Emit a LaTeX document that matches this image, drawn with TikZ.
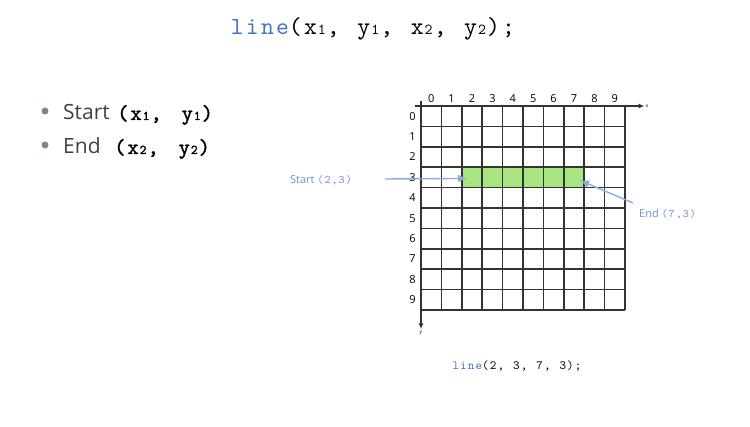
\documentclass[tikz,border=0pt]{standalone}
\usepackage{fontspec,graphicx}
\setmainfont{Open Sans}
\newfontfamily\codefont[LetterSpace=9,WordSpace=1.5]{lmmono10-regular.otf}
\newfontfamily\boldcode[LetterSpace=9,WordSpace=1.5,FakeBold=1.5]{lmmono10-regular.otf}
\newfontfamily\smallcode[LetterSpace=9,WordSpace=1.17]{lmmono10-regular.otf}
\usetikzlibrary{positioning,arrows.meta}
\tikzset{
	>=latex,
}
\definecolor{codeblue}{RGB}{68,114,196}
\definecolor{pointblue}{RGB}{143,170,220}
\definecolor{noteblue}{RGB}{112,144,206}
\definecolor{notegray}{RGB}{64,64,64}
\definecolor{dotgray}{RGB}{125,135,135}
\definecolor{cellgreen}{RGB}{168,228,128}
\newcommand{\csub}[1]{\makebox[0.41em][c]{\scalebox{0.62}{#1}}}

\begin{document}
\begin{tikzpicture}[x=1pt,y=-1pt,
		item/.style={font=\fontsize{21}{21}\selectfont, text=notegray, inner sep=0pt},
		dot/.style={circle, fill=dotgray, inner sep=0pt, minimum size=7pt},
		gridline/.style={line width=1.5pt, black!80},
		axis/.style={line width=1.5pt, black!80, -{Latex[length=6pt,width=5pt]}},
		numlbl/.style={font=\fontsize{11}{11}\selectfont, inner sep=0pt},
		axlbl/.style={font=\fontsize{5}{5}\selectfont, inner sep=1pt},
		note/.style={font=\fontsize{11}{11}\selectfont, text=noteblue, inner sep=0pt},
		pointer/.style={line width=1.4pt, pointblue, -{Latex[length=9pt,width=8pt]}},
	]
	\useasboundingbox (0,0) rectangle (750,427);
	% title
	\node (title) [anchor=base] at (373,35)
		{\fontsize{24.5}{24.5}\codefont\textcolor{codeblue}{line}(x\csub1, y\csub1, x\csub2, y\csub2);};
	% bullets
	\node (dot1) [dot] at (45,111) {};
	\node (dot2) [dot] at (45,145) {};
	\node (start) [item, anchor=base west] at (63,120)
		{\makebox[54pt][l]{Start}{\fontsize{21.5}{21.5}\boldcode\color{black}(x\csub1, y\csub1)}};
	\node (end) [item, anchor=base west] at (63,154)
		{\makebox[51pt][l]{End}{\fontsize{21.5}{21.5}\boldcode\color{black}(x\csub2, y\csub2)}};
	% grid
	\begin{scope}[shift={(421pt,-106pt)}, x=20.4pt, y=-20.4pt]
		\fill[cellgreen] (2,3) rectangle (8,4);
		\foreach \i in {0,...,10} {
			\draw[gridline] (\i,0) -- (\i,10);
			\draw[gridline] (0,\i) -- (10,\i);
		}
		\node (xlbl) [axlbl] at (11.08,0) {x};
		\node (ylbl) [axlbl] at (0,11.1) {y};
		\draw[axis] (-0.3,0) -- (xlbl);
		\draw[axis] (0,-0.25) -- (ylbl);
		\foreach \i in {0,...,9} {
			\node (col\i) [numlbl] at (\i+0.5,-0.38) {\i};
			\node (row\i) [numlbl] at (-0.42,\i+0.5) {\i};
		}
		\coordinate (starthead) at (2.25,3.55);
		\coordinate (endhead) at (7.8,3.65);
	\end{scope}
	% pointers
	\node (startlbl) [note, anchor=west] at (290,180) {Start {\fontsize{11.5}{11.5}\smallcode(2,3)}};
	\node (endlbl) [note, anchor=west] at (639,214) {End {\fontsize{11.5}{11.5}\smallcode(7,3)}};
	\coordinate (starttail) at (385,179);
	\coordinate (endtail) at (633,203);
	\draw[pointer] (starttail) -- (starthead);
	\draw[pointer] (endtail) -- (endhead);
	% call
	\node (call) [anchor=base] at (517,370)
		{\fontsize{12.5}{12.5}\smallcode\textcolor{codeblue}{line}(2, 3, 7, 3);};
\end{tikzpicture}
\end{document}
